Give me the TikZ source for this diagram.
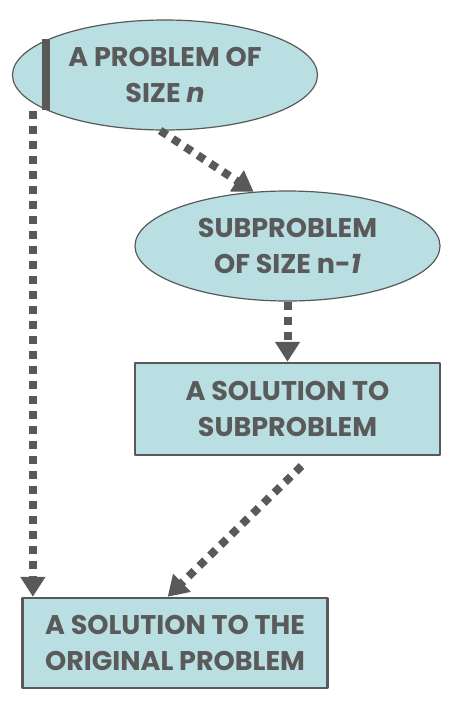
\documentclass[tikz,border=0pt]{standalone}
\usepackage{fontspec}
\setmainfont{Poppins}
\usetikzlibrary{arrows.meta, calc, shapes.geometric, positioning}
\usepackage{xcolor}
\definecolor{boxfill}{HTML}{B9DFE3}
\definecolor{edgegray}{HTML}{595959}
\definecolor{textgray}{HTML}{5A5A5A}

\begin{document}
\begin{tikzpicture}[line join=round, x=1pt, y=-1pt,
  >={Triangle[length=20pt, width=24pt]},
  every node/.style={font=\fontsize{27}{36}\selectfont\bfseries, text=textgray, align=center, inner sep=0pt},
  blob/.style={ellipse, draw=edgegray, line width=1.2pt, fill=boxfill, minimum width=305pt, minimum height=110pt},
  card/.style={rectangle, draw=edgegray, line width=2.5pt, fill=boxfill, minimum width=305pt, minimum height=92pt},
  dots/.style={->, color=edgegray, line width=8pt, dash pattern=on 8pt off 7pt}]
\useasboundingbox (0,0) rectangle (456,702);

% Shapes
\node [blob] (prob) at (165,75) {A PROBLEM OF\\SIZE \textit{n}};
\node [blob] (sub) at (287.5,246) {SUBPROBLEM\\OF SIZE n-\textit{1}};
\node [card] (subsol) at (287.5,409) {A SOLUTION TO\\SUBPROBLEM};
\node [card, minimum height=90pt] (sol) at (175,643) {A SOLUTION TO THE\\ORIGINAL PROBLEM};

% Cursor bar
\draw [line width=8pt, color=edgegray] (46,39) -- (46,110);

% Dotted arrows
\draw [dots] (prob.-95) -- (sub.122);
\draw [dots] (sub.south) -- (subsol.north);
\draw [dots, shorten <=14pt] (subsol.-63) -- (sol.99);
\draw [dots, shorten <=8pt] (prob.-168) -- (prob.-168 |- sol.north);
\end{tikzpicture}
\end{document}
